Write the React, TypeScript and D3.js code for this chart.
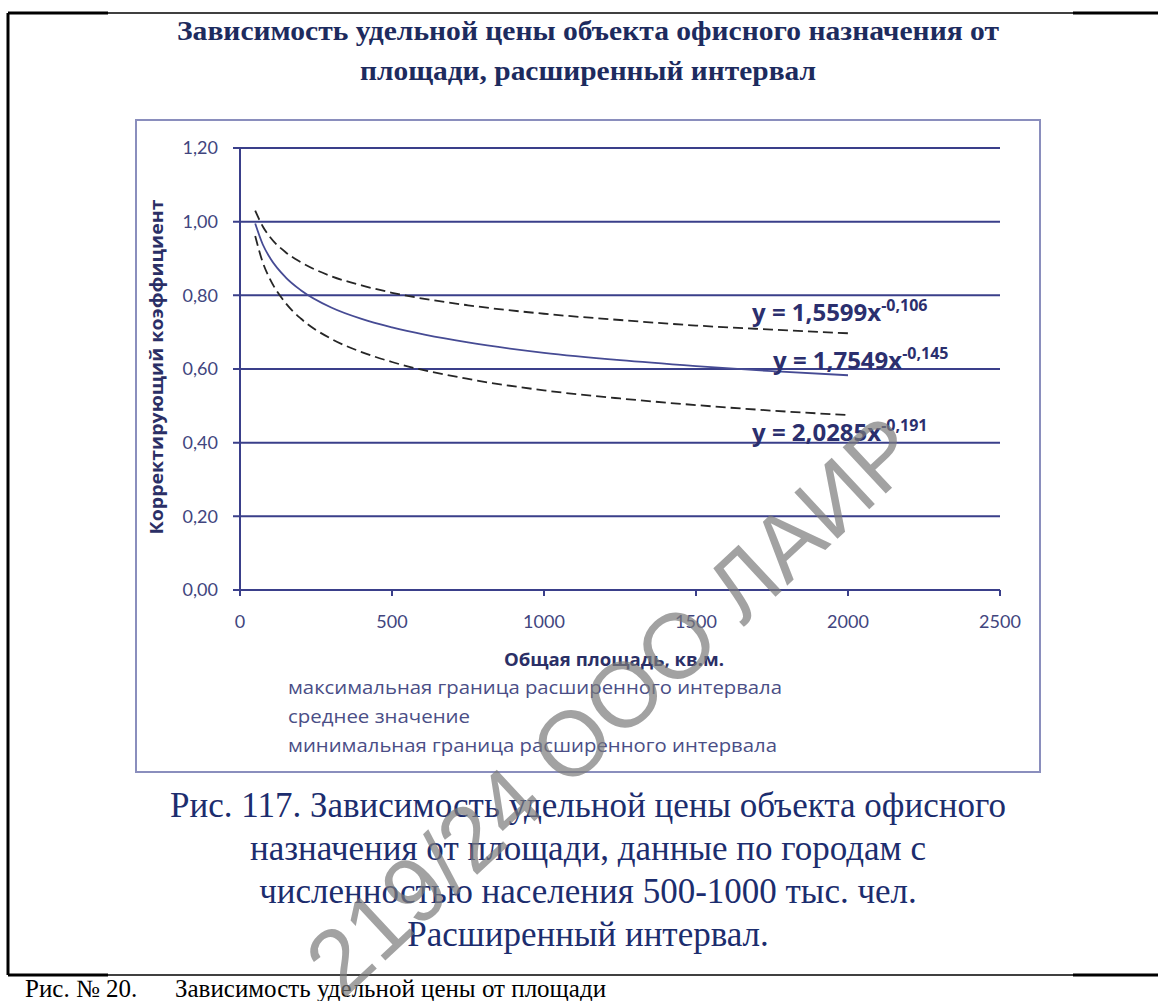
import * as React from 'react';
import * as d3 from 'd3';

// площадь, кв.м. (точки)
const areas = [50, 75, 100, 150, 200, 300, 400, 500, 750, 1000, 1250, 1500, 1750, 2000];
const upperValues = [1.03, 0.987, 0.957, 0.917, 0.89, 0.852, 0.827, 0.807, 0.773, 0.75, 0.733, 0.718, 0.707, 0.697];
const meanValues = [0.995, 0.938, 0.9, 0.849, 0.814, 0.767, 0.736, 0.713, 0.672, 0.644, 0.624, 0.608, 0.594, 0.583];
const lowerValues = [0.961, 0.889, 0.842, 0.779, 0.737, 0.682, 0.646, 0.619, 0.573, 0.542, 0.52, 0.502, 0.487, 0.475];

const xTicks = [0, 500, 1000, 1500, 2000, 2500];
const yTicks = [0, 0.2, 0.4, 0.6, 0.8, 1.0, 1.2];

const legendLabels = [
  'максимальная граница расширенного интервала',
  'среднее значение',
  'минимальная граница расширенного интервала',
];
const legendWidths = [494, 182, 489];
const equations = [
  { k: '1,5599', p: '-0,106' },
  { k: '1,7549', p: '-0,145' },
  { k: '2,0285', p: '-0,191' },
];
const titleLines = [
  'Зависимость удельной цены объекта офисного назначения от',
  'площади, расширенный интервал',
];
const titleWidths = [822, 456];
const captionLines = [
  'Рис. 117. Зависимость удельной цены объекта офисного',
  'назначения от площади, данные по городам с',
  'численностью населения 500-1000 тыс. чел.',
  'Расширенный интервал.',
];

const W = 1158, H = 1001;
const sans = '"Open Sans", Lato, sans-serif';
const tickFont = 'Lato, "Open Sans", sans-serif';
const serif = '"Liberation Serif", "DejaVu Serif", serif';

export default function App() {
  const x = d3.scaleLinear().domain([0, 2500]).range([240, 1000]);
  const y = d3.scaleLinear().domain([0, 1.2]).range([590, 148]);

  const line = d3.line<number>()
    .x((_, i) => x(areas[i]))
    .y(d => y(d))
    .curve(d3.curveMonotoneX);

  const gridColor = '#3a3f8a';
  const tickColor = '#41457e';

  // подписи уравнений возле концов кривых
  const eqPos = [
    { x: x(2000) - 96, y: y(0.73) },
    { x: x(2000) - 75, y: y(0.6) },
    { x: x(2000) - 96, y: y(0.405) },
  ];

  return (
    <svg width={W} height={H} style={{ position: 'absolute', left: 0, top: 0, background: '#fff' }}>
      {/* рамка страницы */}
      <line x1={8} y1={13} x2={8} y2={975} stroke="#000" strokeWidth={3} />
      <line x1={8} y1={13} x2={1158} y2={13} stroke="#000" strokeWidth={1.5} />
      <line x1={8} y1={13} x2={108} y2={13} stroke="#000" strokeWidth={3} />
      <line x1={1073} y1={13} x2={1158} y2={13} stroke="#000" strokeWidth={3} />
      <line x1={8} y1={975} x2={1158} y2={975} stroke="#000" strokeWidth={1.5} />
      <line x1={8} y1={975} x2={108} y2={975} stroke="#000" strokeWidth={3} />
      <line x1={1073} y1={975} x2={1158} y2={975} stroke="#000" strokeWidth={3} />

      {titleLines.map((t, i) => (
        <text key={t} x={588} y={40 + i * 40} textAnchor="middle" fontFamily={serif} fontWeight="bold"
          fontSize={28} fill="#1d2b5e" textLength={titleWidths[i]} lengthAdjust="spacingAndGlyphs">{t}</text>
      ))}

      {/* рамка диаграммы */}
      <rect x={136} y={120} width={904} height={652} fill="none" stroke="#8a8ebd" strokeWidth={2} />

      {/* сетка и ось Y */}
      {yTicks.map(t => (
        <g key={t}>
          <line x1={233} x2={1000} y1={y(t)} y2={y(t)} stroke={gridColor} strokeWidth={2} />
          <text x={218} y={y(t)} dy="0.35em" textAnchor="end" fontFamily={tickFont} fontSize={18}
            fill={tickColor}>{t.toFixed(2).replace('.', ',')}</text>
        </g>
      ))}
      <line x1={240} x2={240} y1={148} y2={595} stroke={gridColor} strokeWidth={2} />
      {xTicks.map(t => (
        <g key={t}>
          <line x1={x(t)} x2={x(t)} y1={590} y2={596} stroke={gridColor} strokeWidth={2} />
          <text x={x(t)} y={622} dy="0.35em" textAnchor="middle" fontFamily={tickFont} fontSize={18}
            fill={tickColor}>{t}</text>
        </g>
      ))}

      {/* кривые */}
      <path d={line(upperValues) || ''} fill="none" stroke="#262626" strokeWidth={1.8} strokeDasharray="10,5" />
      <path d={line(lowerValues) || ''} fill="none" stroke="#262626" strokeWidth={1.8} strokeDasharray="10,5" />
      <path d={line(meanValues) || ''} fill="none" stroke="#464b94" strokeWidth={1.8} />

      {equations.map((e, i) => (
        <text key={e.k} x={eqPos[i].x} y={eqPos[i].y} fontFamily={sans} fontWeight="bold" fontSize={24}
          fill="#2b2f6e">
          {'y = ' + e.k + 'x'}
          <tspan dy={-10} fontSize={16}>{e.p}</tspan>
        </text>
      ))}

      {/* подписи осей */}
      <text x={614} y={660} textAnchor="middle" dy="0.35em" fontFamily={sans} fontWeight="bold" fontSize={17}
        fill="#2b2f66" textLength={220} lengthAdjust="spacingAndGlyphs">Общая площадь, кв.м.</text>
      <text transform="translate(157,367) rotate(-90)" textAnchor="middle" dy="0.35em" fontFamily={sans}
        fontWeight="bold" fontSize={18} fill="#2b2f66" textLength={335}
        lengthAdjust="spacingAndGlyphs">Корректирующий коэффициент</text>

      {/* легенда без маркеров */}
      {legendLabels.map((l, i) => (
        <text key={l} x={288} y={688 + i * 29} dy="0.35em" fontFamily={sans} fontSize={18}
          fill="#4a4e86" textLength={legendWidths[i]} lengthAdjust="spacingAndGlyphs">{l}</text>
      ))}

      {captionLines.map((c, i) => (
        <text key={c} x={588} y={817 + i * 43} textAnchor="middle" fontFamily={serif} fontSize={35}
          fill="#1c2d6e">{c}</text>
      ))}

      <text x={25} y={997} fontFamily={serif} fontSize={25} fill="#000">
        Рис. № 20.<tspan x={175}>Зависимость удельной цены от площади</tspan>
      </text>

      {/* водяной знак */}
      <text transform="translate(612,705) rotate(-43)" textAnchor="middle" dy="0.35em"
        fontFamily='"Liberation Sans", Arial, sans-serif' fontSize={92} fill="#7a7a7a" fillOpacity={0.7}>
        219/24 ООО ЛАИР
      </text>
    </svg>
  );
}
